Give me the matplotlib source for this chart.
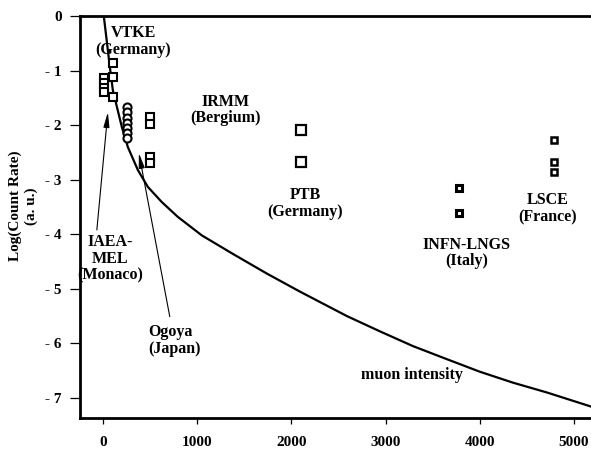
import matplotlib
matplotlib.use("Agg")
import matplotlib.pyplot as plt

# depth-like axis (x) vs log count rate (y)
muon_x = [0, 10, 74, 106, 201, 265, 371, 477, 626, 795, 1050, 1380, 1740,
          2090, 2590, 2940, 3290, 3650, 4000, 4350, 4710, 5200]
muon_y = [0.4, 0.0, -0.93, -1.36, -2.03, -2.40, -2.82, -3.13, -3.41, -3.68,
          -4.02, -4.36, -4.72, -5.05, -5.50, -5.78, -6.05, -6.29, -6.52,
          -6.72, -6.90, -7.17]

iaea_x = [10, 10, 10, 10]
iaea_y = [-1.14, -1.23, -1.31, -1.39]
vtke_x = [110, 110, 110]
vtke_y = [-0.86, -1.12, -1.48]
ogoya_x = [255, 255, 255, 255, 255, 255, 255]
ogoya_y = [-1.66, -1.76, -1.86, -1.96, -2.05, -2.14, -2.23]
irmm_x = [500, 500, 500, 500]
irmm_y = [-1.85, -1.98, -2.58, -2.70]
ptb_x = [2100, 2100]
ptb_y = [-2.09, -2.67]
infn_x = [3780, 3780]
infn_y = [-3.15, -3.61]
lsce_x = [4790, 4790, 4790]
lsce_y = [-2.27, -2.67, -2.85]

xticks = [0, 1000, 2000, 3000, 4000, 5000]
yticks = [0, -1, -2, -3, -4, -5, -6, -7]
ytick_labels = ["0", "- 1", "- 2", "- 3", "- 4", "- 5", "- 6", "- 7"]

plt.rcParams["font.family"] = ["Liberation Serif", "DejaVu Serif"]
plt.rcParams["font.weight"] = "bold"

fig = plt.figure(figsize=(5.91, 4.5), dpi=100)
ax = fig.add_axes([0.135, 0.071, 0.865, 0.893])

ax.plot(muon_x, muon_y, color="black", lw=1.6, clip_on=True)

sq = dict(linestyle="none", marker="s", mfc="white", mec="black")
ax.plot(iaea_x, iaea_y, ms=5.5, mew=1.5, **sq)
ax.plot(vtke_x, vtke_y, ms=5.5, mew=1.5, **sq)
ax.plot(ogoya_x, ogoya_y, linestyle="none", marker="o", mfc="white",
        mec="black", ms=5.8, mew=1.5)
ax.plot(irmm_x, irmm_y, ms=5.5, mew=1.5, **sq)
ax.plot(ptb_x, ptb_y, ms=7, mew=1.6, **sq)
ax.plot(infn_x, infn_y, ms=5, mew=2.2, **sq)
ax.plot(lsce_x, lsce_y, ms=5, mew=1.8, **sq)

fs = 11.5
ax.text(320, -0.46, "VTKE\n(Germany)", ha="center", va="center", fontsize=fs,
        fontweight="bold", linespacing=1.05)
ax.text(1300, -1.72, "IRMM\n(Bergium)", ha="center", va="center", fontsize=fs,
        fontweight="bold", linespacing=1.05)
ax.text(2150, -3.44, "PTB\n(Germany)", ha="center", va="center", fontsize=fs,
        fontweight="bold", linespacing=1.05)
ax.text(3860, -4.34, "INFN-LNGS\n(Italy)", ha="center", va="center", fontsize=fs,
        fontweight="bold", linespacing=1.05)
ax.text(4720, -3.53, "LSCE\n(France)", ha="center", va="center", fontsize=fs,
        fontweight="bold", linespacing=1.05)
ax.text(3280, -6.58, "muon intensity", ha="center", va="center", fontsize=fs,
        fontweight="bold")

arrow = dict(arrowstyle="-|>,head_width=0.18,head_length=0.9", color="black",
             lw=0.8, shrinkA=0, shrinkB=0)
ax.annotate("", xy=(53, -1.76), xytext=(-64, -3.92), arrowprops=arrow)
ax.text(80, -4.45, "IAEA-\nMEL\n(Monaco)", ha="center", va="center",
        fontsize=fs, fontweight="bold", linespacing=1.05)
ax.annotate("", xy=(382, -2.51), xytext=(710, -5.51), arrowprops=arrow)
ax.text(480, -5.95, "Ogoya\n(Japan)", ha="left", va="center", fontsize=fs,
        fontweight="bold", linespacing=1.05)

ax.set_xlim(-245, 5180)
ax.set_ylim(-7.37, 0)
ax.set_xticks(xticks)
ax.set_yticks(yticks)
ax.set_yticklabels(ytick_labels)
ax.tick_params(axis="both", direction="out", width=0.9, labelsize=11)
ax.tick_params(axis="x", length=4, pad=9)
ax.tick_params(axis="y", length=7, pad=6)
for lab in ax.get_xticklabels() + ax.get_yticklabels():
    lab.set_fontweight("bold")

ax.spines["right"].set_visible(False)
for side in ["left", "bottom", "top"]:
    ax.spines[side].set_linewidth(2)

fig.text(0.039, 0.542, "Log(Count Rate)\n(a. u.)", rotation=90, ha="center",
         va="center", fontsize=11, fontweight="bold", linespacing=1.3)

fig.savefig("out.png", dpi=100)
